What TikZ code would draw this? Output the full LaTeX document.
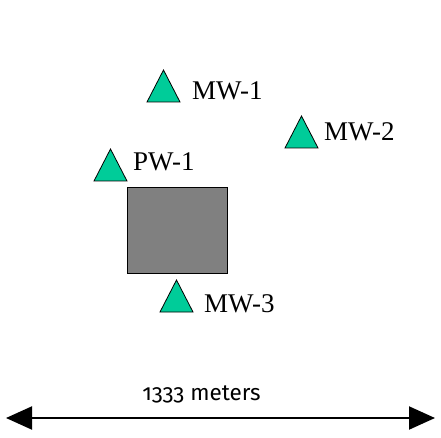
\documentclass[tikz,border=0pt]{standalone}
\usepackage{fontspec}
\setmainfont{Liberation Serif}
\newfontfamily\metersfont[Numbers=OldStyle]{Fira Sans}
\usetikzlibrary{arrows.meta}
\definecolor{wellgreen}{RGB}{0,204,153}
\definecolor{sitegray}{RGB}{128,128,128}
\tikzset{
  wellmark/.style={draw=black, line width=0.8pt, fill=wellgreen, line join=miter},
  welllabel/.style={anchor=base west, inner sep=0pt, font=\fontsize{27}{30}\selectfont},
  sitebox/.style={draw=black, line width=0.9pt, fill=sitegray},
  scalebar/.style={line width=2pt, {Triangle[length=26pt,width=23pt]}-{Triangle[length=26pt,width=23pt]}},
}
\newcommand{\wellat}[3]{% name, x of left base corner, y of base
  \draw[wellmark] (#2,#3) -- (#2+33,#3) -- (#2+16.5,#3-32) -- cycle;
  \coordinate (#1) at (#2+16.5,#3-16);
}
\begin{document}
\begin{tikzpicture}[x=1pt,y=-1pt]
\useasboundingbox (0,0) rectangle (441,438);
\wellat{mw1}{147}{102}
\wellat{mw2}{285}{148}
\wellat{pw1}{94}{181}
\wellat{mw3}{160}{312}
\node[welllabel] (lmw1) at (192,100) {MW-1};
\node[welllabel] (lmw2) at (324,141) {MW-2};
\node[welllabel] (lpw1) at (133,171) {PW-1};
\node[welllabel] (lmw3) at (204,312) {MW-3};
\node[sitebox, minimum width=100pt, minimum height=86pt, inner sep=0pt, anchor=north west] (site) at (127,187) {};
\coordinate (left) at (6,418);
\coordinate (right) at (435,418);
\draw[scalebar] (left) -- (right);
\node[anchor=base, inner sep=0pt, font=\metersfont\fontsize{22.5}{25}\selectfont] (scale) at (201.5,400) {1333 meters};
\end{tikzpicture}
\end{document}
